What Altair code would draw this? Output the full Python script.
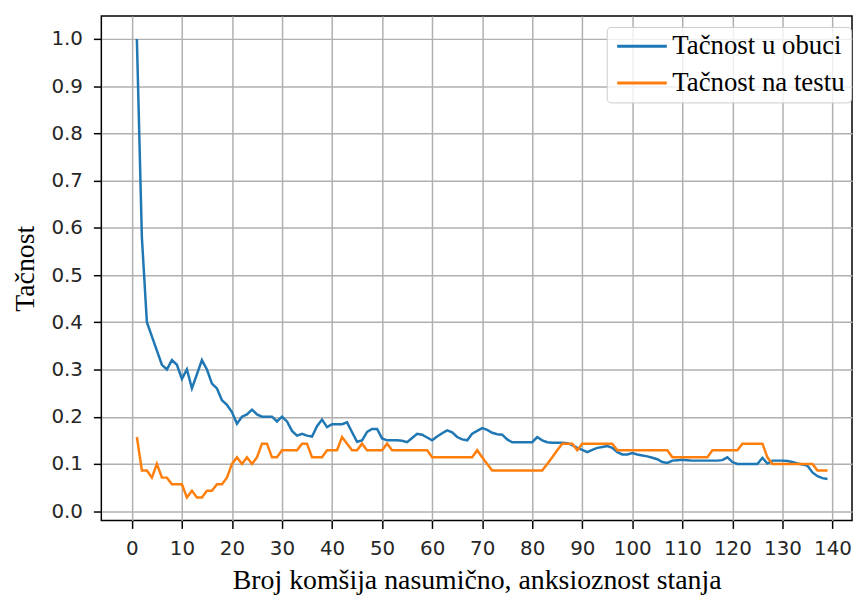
import altair as alt
import pandas as pd

neighbors = list(range(1, 140))

train_acc = [
    1.0, 0.58, 0.40, 0.37, 0.34, 0.31, 0.30, 0.32, 0.31, 0.28,
    0.30, 0.26, 0.29, 0.32, 0.30, 0.27, 0.26, 0.235, 0.225, 0.21,
    0.185, 0.20, 0.205, 0.215, 0.205, 0.20, 0.20, 0.20, 0.19, 0.20,
    0.19, 0.17, 0.16, 0.164, 0.16, 0.158, 0.18, 0.194, 0.178, 0.184,
    0.184, 0.184, 0.188, 0.167, 0.147, 0.15, 0.168, 0.174, 0.174, 0.154,
    0.15, 0.15, 0.15, 0.149, 0.146, 0.155, 0.164, 0.162, 0.156, 0.15,
    0.158, 0.165, 0.171, 0.167, 0.157, 0.152, 0.15, 0.164, 0.17, 0.176,
    0.172, 0.166, 0.163, 0.162, 0.152, 0.146, 0.146, 0.146, 0.146, 0.146,
    0.157, 0.15, 0.146, 0.145, 0.145, 0.145, 0.144, 0.14, 0.134, 0.13,
    0.125, 0.13, 0.134, 0.136, 0.138, 0.134, 0.125, 0.12, 0.12, 0.123,
    0.12, 0.118, 0.116, 0.113, 0.11, 0.104, 0.102, 0.107, 0.108, 0.109,
    0.108, 0.107, 0.107, 0.107, 0.107, 0.107, 0.107, 0.108, 0.114, 0.104,
    0.1, 0.1, 0.1, 0.1, 0.1, 0.113, 0.101, 0.107, 0.107, 0.107,
    0.106, 0.104, 0.101, 0.099, 0.096, 0.082, 0.074, 0.07, 0.068,
]

test_acc = [
    0.157, 0.086, 0.086, 0.071, 0.1, 0.071, 0.071, 0.057, 0.057, 0.057,
    0.029, 0.043, 0.029, 0.029, 0.043, 0.043, 0.057, 0.057, 0.071, 0.1,
    0.114, 0.1, 0.114, 0.1, 0.114, 0.143, 0.143, 0.114, 0.114, 0.129,
    0.129, 0.129, 0.129, 0.143, 0.143, 0.114, 0.114, 0.114, 0.129, 0.129,
    0.129, 0.157, 0.143, 0.129, 0.129, 0.143, 0.129, 0.129, 0.129, 0.129,
    0.143, 0.129, 0.129, 0.129, 0.129, 0.129, 0.129, 0.129, 0.129, 0.114,
    0.114, 0.114, 0.114, 0.114, 0.114, 0.114, 0.114, 0.114, 0.129, 0.114,
    0.1, 0.086, 0.086, 0.086, 0.086, 0.086, 0.086, 0.086, 0.086, 0.086,
    0.086, 0.086, 0.1, 0.114, 0.129, 0.143, 0.143, 0.143, 0.129, 0.143,
    0.143, 0.143, 0.143, 0.143, 0.143, 0.143, 0.129, 0.129, 0.129, 0.129,
    0.129, 0.129, 0.129, 0.129, 0.129, 0.129, 0.129, 0.114, 0.114, 0.114,
    0.114, 0.114, 0.114, 0.114, 0.114, 0.129, 0.129, 0.129, 0.129, 0.129,
    0.129, 0.143, 0.143, 0.143, 0.143, 0.143, 0.114, 0.1, 0.1, 0.1,
    0.1, 0.1, 0.1, 0.1, 0.1, 0.1, 0.086, 0.086, 0.086,
]

series_names = ["Tačnost u obuci", "Tačnost na testu"]
series_colors = ["#1f77b4", "#ff7f0e"]
x_ticks = [0, 10, 20, 30, 40, 50, 60, 70, 80, 90, 100, 110, 120, 130, 140]
y_ticks = [0.0, 0.1, 0.2, 0.3, 0.4, 0.5, 0.6, 0.7, 0.8, 0.9, 1.0]

rows = []
for i, k in enumerate(neighbors):
    rows.append({"k": k, "acc": train_acc[i], "series": series_names[0], "ord": 0})
for i, k in enumerate(neighbors):
    rows.append({"k": k, "acc": test_acc[i], "series": series_names[1], "ord": 1})
df = pd.DataFrame(rows)

serif = "Liberation Serif"
sans = "DejaVu Sans"

chart = (
    alt.Chart(df)
    .mark_line(strokeWidth=2.5)
    .encode(
        x=alt.X(
            "k:Q",
            scale=alt.Scale(domain=[-6.1, 143.9], nice=False, zero=False),
            axis=alt.Axis(
                values=x_ticks,
                title="Broj komšija nasumično, anksioznost stanja",
                format="d",
            ),
        ),
        y=alt.Y(
            "acc:Q",
            scale=alt.Scale(domain=[-0.0197, 1.0486], nice=False, zero=False),
            axis=alt.Axis(values=y_ticks, format=".1f", title="Tačnost"),
        ),
        color=alt.Color(
            "series:N",
            scale=alt.Scale(domain=series_names, range=series_colors),
            legend=alt.Legend(
                title=None,
                orient="none",
                legendX=509,
                legendY=11,
                symbolType="M-2.5,0H2.5",
                symbolSize=400,
                symbolStrokeWidth=3,
                symbolOffset=16,
                labelFont=serif,
                labelFontSize=27,
                labelColor="#000000",
                labelLimit=400,
                labelOffset=17,
                rowPadding=9,
                padding=6,
                strokeColor="#cccccc",
                fillColor="rgba(255,255,255,0.8)",
                cornerRadius=4,
            ),
        ),
        order=alt.Order("ord:Q"),
        detail="series:N",
    )
    .properties(
        width=756,
        height=508,
        autosize=alt.AutoSizeParams(type="none"),
        padding={"left": 94, "top": 6, "right": 1, "bottom": 76},
    )
    .configure_view(stroke="#000000", strokeWidth=1.5)
    .configure_axis(
        grid=True,
        gridColor="#b0b0b0",
        gridWidth=1.5,
        domain=False,
        tickColor="#000000",
        tickSize=8,
        tickWidth=1.5,
        labelFont=sans,
        labelFontSize=20,
        labelColor="#262626",
        titleFont=serif,
        titleFontSize=28,
        titleFontWeight="normal",
        titleColor="#000000",
    )
    .configure_axisX(titlePadding=9, labelPadding=10)
    .configure_axisY(titlePadding=12, labelPadding=11)
)

chart.save("out.html", embed_options={"renderer": "svg", "actions": False})
